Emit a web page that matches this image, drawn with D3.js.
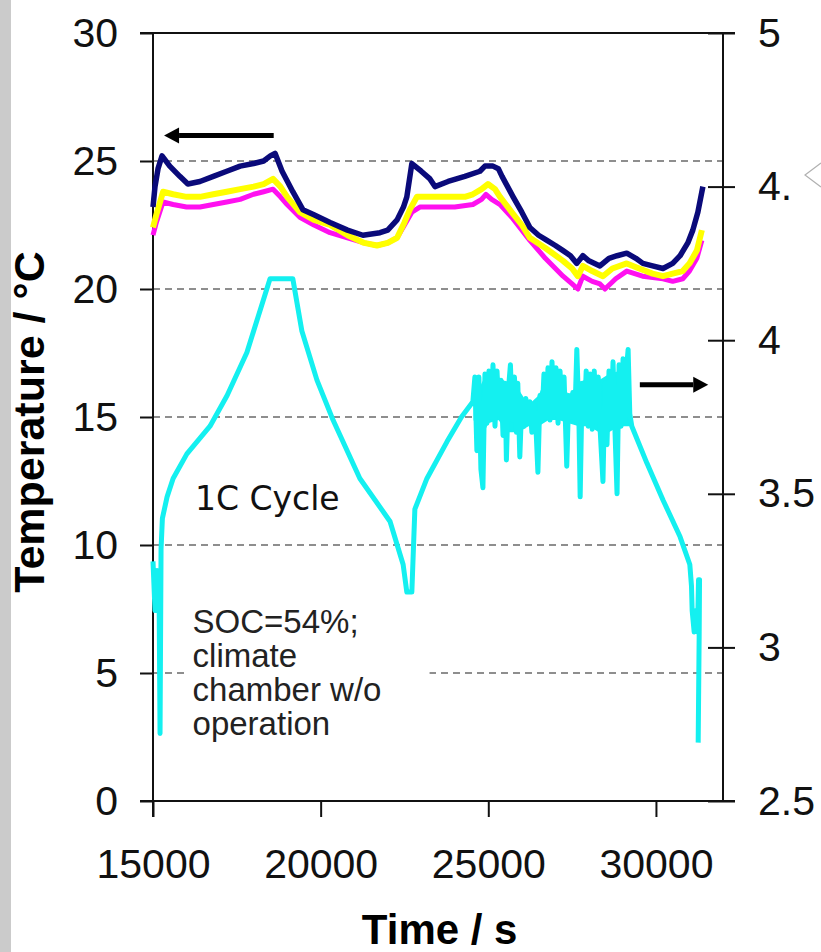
<!DOCTYPE html>
<html>
<head>
<meta charset="utf-8">
<script src="https://cdn.jsdelivr.net/npm/d3@7"></script>
<style>
  body { margin: 0; background: #fff; }
  svg { display: block; }
  .tick text { font-family: "Liberation Sans", Arial, sans-serif; font-size: 41px; fill: #111; }
  .tick line { stroke: #111; stroke-width: 2; }
</style>
</head>
<body>
<div class="chart"></div>
<script>
// axis ranges / ticks
const timeTicks = [15000, 20000, 25000, 30000];
const tempTicks = [0, 5, 10, 15, 20, 25, 30];
const voltTicks = [2.5, 3, 3.5, 4, 4.5, 5];
const voltTickLabels = ['2.5', '3', '3.5', '4', '4.', '5'];
const gridTemps = [5, 10, 15, 20, 25];

// temperature sensors [time s, °C]
const tempNavy = [[15000,23.2],[15060,24.0],[15150,24.7],[15270,25.2],[15500,24.8],[15800,24.4],[16040,24.1],[16400,24.2],[16800,24.4],[17200,24.6],[17600,24.8],[18000,24.9],[18300,25.0],[18500,25.2],[18640,25.3],[18850,24.6],[19170,23.8],[19470,23.1],[19800,22.9],[20280,22.6],[20800,22.3],[21260,22.1],[21770,22.2],[22000,22.3],[22280,22.7],[22470,23.2],[22570,23.6],[22720,24.9],[23000,24.6],[23260,24.3],[23410,24.0],[23800,24.2],[24300,24.4],[24750,24.6],[24900,24.8],[25140,24.8],[25300,24.7],[25410,24.4],[25740,23.6],[26000,23.0],[26240,22.4],[26500,22.1],[26750,21.9],[27000,21.7],[27230,21.5],[27450,21.3],[27640,21.0],[27820,21.3],[28000,21.1],[28330,20.9],[28600,21.2],[28840,21.3],[29130,21.4],[29400,21.2],[29610,21.0],[29900,20.9],[30210,20.8],[30500,21.0],[30720,21.3],[30950,21.8],[31100,22.3],[31250,23.0],[31400,24.0]];
const tempYellow = [[15000,22.4],[15100,22.9],[15300,23.8],[15600,23.7],[16000,23.6],[16400,23.6],[16800,23.7],[17200,23.8],[17600,23.9],[18000,24.0],[18300,24.1],[18580,24.3],[18800,24.0],[19000,23.6],[19380,23.0],[19800,22.7],[20280,22.5],[20800,22.1],[21300,21.8],[21680,21.7],[22000,21.8],[22280,22.0],[22500,22.6],[22660,23.1],[22870,23.6],[23260,23.6],[23800,23.6],[24300,23.6],[24540,23.7],[24800,23.9],[24990,24.1],[25200,23.9],[25350,23.6],[25700,23.0],[26000,22.5],[26240,22.0],[26700,21.6],[27230,21.1],[27500,20.8],[27670,20.5],[27820,20.9],[28100,20.7],[28420,20.5],[28700,20.8],[29130,21.0],[29500,20.8],[29900,20.6],[30210,20.5],[30500,20.6],[30800,20.7],[31000,21.0],[31220,21.5],[31370,22.3]];
const tempMagenta = [[15000,22.1],[15100,22.6],[15300,23.4],[15600,23.3],[16000,23.2],[16400,23.2],[16800,23.3],[17200,23.4],[17600,23.5],[18000,23.7],[18300,23.8],[18580,23.9],[18800,23.6],[19000,23.3],[19380,22.8],[19800,22.5],[20280,22.2],[20800,22.0],[21300,21.8],[21680,21.7],[22000,21.8],[22280,22.0],[22500,22.5],[22720,23.0],[22960,23.2],[23500,23.2],[24000,23.2],[24540,23.3],[24800,23.5],[24930,23.7],[25100,23.5],[25350,23.3],[25700,22.8],[26240,21.9],[26700,21.2],[27230,20.5],[27500,20.2],[27670,20.0],[27820,20.5],[28100,20.3],[28330,20.2],[28480,20.0],[28800,20.4],[29130,20.7],[29600,20.5],[30210,20.4],[30500,20.3],[30800,20.4],[31000,20.7],[31220,21.2],[31370,21.9]];

// cell voltage [time s, V]
const voltage = [[15000,3.28],[15060,3.12],[15120,3.25],[15180,3.20],[15210,2.72],[15240,3.32],[15280,3.42],[15420,3.49],[15600,3.55],[16010,3.63],[16700,3.72],[17210,3.82],[17800,3.96],[18490,4.20],[19170,4.20],[19440,4.03],[19890,3.87],[20370,3.74],[21170,3.55],[22070,3.41],[22460,3.27],[22570,3.18],[22720,3.18],[22810,3.45],[23170,3.55],[23770,3.67],[24200,3.75],
  [24540,3.80],[24600,3.88],[24660,3.64],[24720,3.88],[24780,3.58],[24840,3.52],[24900,3.89],[24960,3.73],[25020,3.90],[25080,3.75],[25140,3.92],[25200,3.72],[25260,3.90],[25320,3.76],[25380,3.87],[25440,3.69],[25500,3.86],[25540,3.61],[25600,3.84],[25660,3.92],[25720,3.74],[25780,3.88],[25840,3.70],[25880,3.86],[25940,3.62],[26000,3.80],[26060,3.72],[26120,3.81],[26180,3.73],[26240,3.80],[26300,3.70],[26360,3.79],[26420,3.72],[26480,3.57],[26540,3.82],[26600,3.74],[26660,3.89],[26720,3.75],[26780,3.91],[26840,3.74],[26900,3.93],[26960,3.76],[27020,3.91],[27080,3.73],[27140,3.90],[27200,3.75],[27260,3.88],[27340,3.59],[27400,3.82],[27460,3.75],[27520,3.83],[27580,3.74],[27640,3.97],[27700,3.76],[27740,3.49],[27800,3.86],[27860,3.73],[27920,3.90],[27980,3.72],[28040,3.89],[28100,3.71],[28160,3.90],[28220,3.74],[28280,3.88],[28340,3.70],[28420,3.54],[28480,3.86],[28540,3.66],[28600,3.90],[28660,3.72],[28720,3.93],[28780,3.70],[28840,3.50],[28900,3.92],[28960,3.72],[29020,3.94],[29080,3.74],[29140,3.93],[29170,3.97],[29220,3.76],[29280,3.72],
  [29730,3.60],[30210,3.48],[30720,3.36],[31010,3.27],[31060,3.20],[31080,3.12],[31140,3.05],[31200,3.12],[31240,3.05],[31270,3.22],[31300,3.22],[31290,3.05],[31260,2.69]];

// dense ripple band during the pulse phase [time s, lower V, upper V]
const rippleBand = [[24560,3.74,3.80],[24800,3.68,3.86],[25000,3.73,3.90],[25300,3.74,3.88],[25600,3.70,3.86],[25900,3.70,3.84],[26200,3.72,3.79],[26500,3.72,3.82],[26800,3.74,3.90],[27100,3.74,3.89],[27400,3.73,3.82],[27700,3.72,3.86],[28000,3.72,3.88],[28300,3.70,3.87],[28600,3.70,3.89],[28900,3.72,3.90],[29200,3.72,3.91],[29270,3.72,3.78]];

// annotations (data units)
const arrowTemp = [[18600, 26.0], [15330, 26.0]];
const arrowVolt = [[29520, 3.855], [31560, 3.855]];
const noteCycle = { t: 16250, T: 11.35, text: '1C Cycle' };
const noteSoc = { t: 16180, T: 6.55, lines: ['SOC=54%;', 'climate', 'chamber w/o', 'operation'] };

const W = 821, H = 952;
const margin = { top: 33, right: 98, bottom: 151, left: 153 };
const cw = W - margin.left - margin.right;
const ch = H - margin.top - margin.bottom;

const svg = d3.select('.chart').append('svg').attr('width', W).attr('height', H);

// grey strip on the left edge
svg.append('rect').attr('x', 0).attr('y', 0).attr('width', 11).attr('height', H).attr('fill', '#cbcbcb');

// faint fragment at the right edge
svg.append('path').attr('d', 'M821,163 L805,175 L821,187').attr('fill', 'none')
  .attr('stroke', '#b0b0b0').attr('stroke-width', 1.2);

const g = svg.append('g').attr('transform', `translate(${margin.left},${margin.top})`);

const x = d3.scaleLinear().domain([15000, 32000]).range([0, cw]);
const yT = d3.scaleLinear().domain([0, 30]).range([ch, 0]);
const yV = d3.scaleLinear().domain([2.5, 5]).range([ch, 0]);

// gridlines
g.append('g').selectAll('line').data(gridTemps).join('line')
  .attr('x1', 0).attr('x2', cw)
  .attr('y1', d => yT(d)).attr('y2', d => yT(d))
  .attr('stroke', '#8e8e8e').attr('stroke-width', 2).attr('stroke-dasharray', '7,5');

// axes
const xAxis = d3.axisBottom(x).tickValues(timeTicks).tickSize(16).tickPadding(32).tickFormat(d3.format('d'));
g.append('g').attr('transform', `translate(0,${ch})`).call(xAxis).call(a => a.select('.domain').remove());

const yAxisL = d3.axisLeft(yT).tickValues(tempTicks).tickSize(13).tickPadding(22);
g.append('g').call(yAxisL).call(a => a.select('.domain').remove());

const yAxisR = d3.axisRight(yV).tickValues(voltTicks).tickSize(12).tickPadding(23)
  .tickFormat((d, i) => voltTickLabels[i]);
const ra = g.append('g').attr('transform', `translate(${cw},0)`).call(yAxisR);
ra.select('.domain').remove();
ra.selectAll('.tick line').attr('x1', -15);

// frame
const frame = g.append('g').attr('stroke', '#111').attr('stroke-width', 2);
frame.append('line').attr('x1', -13).attr('x2', cw + 12).attr('y1', 0).attr('y2', 0);
frame.append('line').attr('x1', -13).attr('x2', cw + 12).attr('y1', ch).attr('y2', ch);
frame.append('line').attr('x1', 0).attr('x2', 0).attr('y1', 0).attr('y2', ch + 16);
frame.append('line').attr('x1', cw).attr('x2', cw).attr('y1', 0).attr('y2', ch);

// annotation background
const socTop = yT(noteSoc.T) - 30;
g.append('rect').attr('x', x(noteSoc.t) - 8).attr('y', socTop)
  .attr('width', 245).attr('height', 34 * 4 + 8).attr('fill', '#fff');

// series
const lineT = d3.line().x(d => x(d[0])).y(d => yT(d[1]));
const lineV = d3.line().x(d => x(d[0])).y(d => yV(d[1]));
const bandV = d3.area().x(d => x(d[0])).y0(d => yV(d[1])).y1(d => yV(d[2]));

g.append('path').datum(rippleBand).attr('d', bandV).attr('fill', '#14f0f0');

g.append('path').datum(voltage).attr('d', lineV).attr('fill', 'none')
  .attr('stroke', '#14f0f0').attr('stroke-width', 5).attr('stroke-linejoin', 'round');

[[tempMagenta, '#ff10f0', 5], [tempYellow, '#ffff00', 6], [tempNavy, '#0a0a7a', 5.5]].forEach(([data, c, w]) => {
  g.append('path').datum(data).attr('d', lineT).attr('fill', 'none')
    .attr('stroke', c).attr('stroke-width', w).attr('stroke-linejoin', 'round');
});

// arrows
function arrow(p0, p1) {
  const dir = Math.sign(p1[0] - p0[0]);
  const hl = 15, hw = 8;
  g.append('line').attr('x1', p0[0]).attr('y1', p0[1]).attr('x2', p1[0] - dir * hl).attr('y2', p1[1])
    .attr('stroke', '#000').attr('stroke-width', 5);
  g.append('path')
    .attr('d', `M${p1[0]},${p1[1]} L${p1[0] - dir * hl},${p1[1] - hw} L${p1[0] - dir * hl},${p1[1] + hw} Z`)
    .attr('fill', '#000');
}
arrow([x(arrowTemp[0][0]), yT(arrowTemp[0][1])], [x(arrowTemp[1][0]), yT(arrowTemp[1][1])]);
arrow([x(arrowVolt[0][0]), yV(arrowVolt[0][1])], [x(arrowVolt[1][0]), yV(arrowVolt[1][1])]);

// notes
g.append('text').attr('x', x(noteCycle.t)).attr('y', yT(noteCycle.T))
  .style('font-family', '"DejaVu Sans", Verdana, sans-serif').style('font-size', '33px').style('fill', '#111')
  .text(noteCycle.text);

g.append('text').attr('x', x(noteSoc.t)).attr('y', yT(noteSoc.T))
  .style('font-family', '"Liberation Sans", Arial, sans-serif').style('font-size', '33px').style('fill', '#222')
  .selectAll('tspan').data(noteSoc.lines).join('tspan')
  .attr('x', x(noteSoc.t)).attr('dy', (d, i) => i === 0 ? 0 : 34).text(d => d);

// axis titles
svg.append('text').attr('x', margin.left + x(23550)).attr('y', 944)
  .attr('text-anchor', 'middle')
  .style('font-family', '"Liberation Sans", Arial, sans-serif').style('font-weight', 'bold').style('font-size', '42px')
  .text('Time / s');

svg.append('text').attr('transform', `translate(44,${422}) rotate(-90)`)
  .attr('text-anchor', 'middle')
  .style('font-family', '"Liberation Sans", Arial, sans-serif').style('font-weight', 'bold').style('font-size', '43px')
  .text('Temperature / °C');
</script>
</body>
</html>
